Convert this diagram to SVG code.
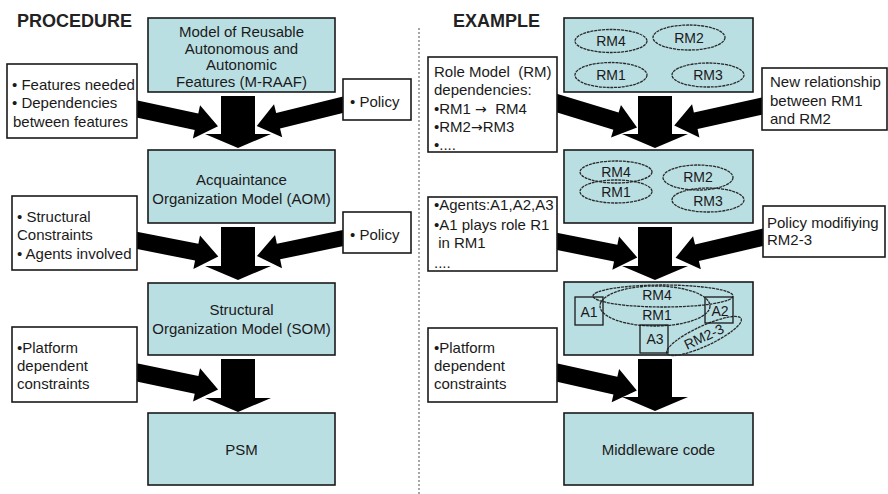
<svg xmlns="http://www.w3.org/2000/svg" width="888" height="494" viewBox="0 0 888 494">
<style>
.t{font-family:"Liberation Sans",Arial,sans-serif;font-size:15px;fill:#1a1a1a;white-space:pre}
.c{text-anchor:middle}
.s{font-size:14px}
.r{font-family:"DejaVu Sans",sans-serif;font-size:14px}
.h{font-family:"Liberation Sans",Arial,sans-serif;font-size:18px;font-weight:bold;fill:#222}
.m{fill:#badfe3;stroke:#1a1a1a;stroke-width:1.6}
.n{fill:#fff;stroke:#1a1a1a;stroke-width:1.6}
.e{fill:none;stroke:#2a2a2a;stroke-width:1.3;stroke-dasharray:3 0.8}
.a{fill:none;stroke:#1a1a1a;stroke-width:1.3}
.k{fill:#000}
</style>
<rect width="888" height="494" fill="#fff"/>
<text class="h" x="17" y="27">PROCEDURE</text>
<text class="h" x="453" y="27">EXAMPLE</text>
<line x1="419" y1="28" x2="419" y2="494" stroke="#777" stroke-width="1.3" stroke-dasharray="2 2"/>

<g id="connectors">
  <path class="k" d="M221,96 H255 V134 H271 L238,148 L205,134 H221 Z"/>
  <path class="k" d="M221,227 H255 V266 H271 L238,280 L205,266 H221 Z"/>
  <path class="k" d="M221,359 H255 V398 H271 L238,412 L205,398 H221 Z"/>
  <path class="k" d="M638,96 H672 V134 H688 L655,148 L622,134 H638 Z"/>
  <path class="k" d="M638,227 H672 V266 H688 L655,280 L622,266 H638 Z"/>
  <path class="k" d="M638,359 H672 V397 H688 L655,411 L622,397 H638 Z"/>
  <path class="k" transform="translate(130,107.5) rotate(12.1)" d="M0,-8.5 H68 V-17 L90,0 L68,17 V8.5 H0 Z"/>
  <path class="k" transform="translate(348,103.5) rotate(166.1)" d="M0,-8 H72 V-17 L94,0 L72,17 V8 H0 Z"/>
  <path class="k" transform="translate(130,239) rotate(11.2)" d="M0,-8.5 H68 V-17 L90,0 L68,17 V8.5 H0 Z"/>
  <path class="k" transform="translate(348,237) rotate(168.2)" d="M0,-8 H71 V-17 L93,0 L71,17 V8 H0 Z"/>
  <path class="k" transform="translate(130,371) rotate(11.8)" d="M0,-9 H68 V-17 L90,0 L68,17 V9 H0 Z"/>
  <path class="k" transform="translate(550,101) rotate(17)" d="M0,-9 H69 V-17 L91,0 L69,17 V9 H0 Z"/>
  <path class="k" transform="translate(767,105) rotate(167.5)" d="M0,-8.5 H73 V-17 L95,0 L73,17 V8.5 H0 Z"/>
  <path class="k" transform="translate(550,240) rotate(11.3)" d="M0,-8.5 H67 V-17 L89,0 L67,17 V8.5 H0 Z"/>
  <path class="k" transform="translate(768,236) rotate(166.7)" d="M0,-8.5 H73 V-17 L95,0 L73,17 V8.5 H0 Z"/>
  <path class="k" transform="translate(550,371) rotate(12.6)" d="M0,-9 H67 V-17 L89,0 L67,17 V9 H0 Z"/>
</g>

<g id="mraaf">
  <rect class="m" x="148" y="18" width="187" height="74"/>
  <text class="t c" x="241.5" y="37">Model of Reusable</text>
  <text class="t c" x="241.5" y="53.5">Autonomous and</text>
  <text class="t c" x="241.5" y="70">Autonomic</text>
  <text class="t c" x="241.5" y="86.5">Features (M-RAAF)</text>
</g>
<g id="features">
  <rect class="n" x="7" y="64" width="130" height="74"/>
  <text class="t" x="12" y="90">• Features needed</text>
  <text class="t" x="12" y="108">• Dependencies</text>
  <text class="t" x="13" y="126.5">between features</text>
</g>
<g id="policy1">
  <rect class="n" x="343" y="79" width="68" height="41"/>
  <text class="t" x="350" y="106.5">• Policy</text>
</g>
<g id="aom">
  <rect class="m" x="148" y="150" width="187" height="73"/>
  <text class="t c" x="241.5" y="184.5">Acquaintance</text>
  <text class="t c" x="241.5" y="203.5">Organization Model (AOM)</text>
</g>
<g id="structural">
  <rect class="n" x="12" y="196" width="125" height="74"/>
  <text class="t" x="17" y="222">• Structural</text>
  <text class="t" x="17" y="239.5">Constraints</text>
  <text class="t" x="17" y="258.5">• Agents involved</text>
</g>
<g id="policy2">
  <rect class="n" x="343" y="212" width="68" height="41"/>
  <text class="t" x="350" y="240">• Policy</text>
</g>
<g id="som">
  <rect class="m" x="148" y="283" width="187" height="72"/>
  <text class="t c" x="241.5" y="315">Structural</text>
  <text class="t c" x="241.5" y="333.5">Organization Model (SOM)</text>
</g>
<g id="platform1">
  <rect class="n" x="12" y="327" width="125" height="75"/>
  <text class="t" x="17" y="353">•Platform</text>
  <text class="t" x="17" y="371">dependent</text>
  <text class="t" x="17" y="389">constraints</text>
</g>
<g id="psm">
  <rect class="m" x="148" y="413" width="187" height="72"/>
  <text class="t c" x="241.5" y="455">PSM</text>
</g>

<g id="rm-initial">
  <rect class="m" x="564" y="18" width="189" height="74"/>
  <ellipse class="e" cx="611" cy="41" rx="36" ry="11.5"/>
  <ellipse class="e" cx="689" cy="37.5" rx="36" ry="12.5"/>
  <ellipse class="e" cx="611" cy="75" rx="36" ry="12.5"/>
  <ellipse class="e" cx="708" cy="75" rx="36" ry="12"/>
  <text class="t s c" x="611" y="46">RM4</text>
  <text class="t s c" x="689" y="42.5">RM2</text>
  <text class="t s c" x="611" y="80">RM1</text>
  <text class="t s c" x="708" y="80">RM3</text>
</g>
<g id="rm-deps">
  <rect class="n" x="428" y="57" width="129" height="95"/>
  <text class="t" x="434" y="77">Role Model  (RM)</text>
  <text class="t" x="434" y="95">dependencies:</text>
  <text class="t" x="434" y="114">•RM1 <tspan class="r">→</tspan>  RM4</text>
  <text class="t" x="434" y="132">•RM2<tspan class="r">→</tspan>RM3</text>
  <text class="t" x="434" y="150">•....</text>
</g>
<g id="new-rel">
  <rect class="n" x="762" y="68" width="125" height="62"/>
  <text class="t" x="770" y="87">New relationship</text>
  <text class="t" x="770" y="106">between RM1</text>
  <text class="t" x="770" y="124">and RM2</text>
</g>
<g id="rm-merged">
  <rect class="m" x="564" y="150" width="189" height="73"/>
  <ellipse class="e" cx="616" cy="172" rx="36" ry="11"/>
  <ellipse class="e" cx="616" cy="191.5" rx="36" ry="11.5"/>
  <ellipse class="e" cx="698" cy="177.5" rx="35" ry="12.5"/>
  <ellipse class="e" cx="708" cy="200" rx="36" ry="12"/>
  <text class="t s c" x="616" y="177">RM4</text>
  <text class="t s c" x="616" y="197">RM1</text>
  <text class="t s c" x="698" y="182">RM2</text>
  <text class="t s c" x="708" y="206">RM3</text>
</g>
<g id="agents">
  <rect class="n" x="428" y="197" width="129" height="74"/>
  <text class="t" x="434" y="210">•Agents:A1,A2,A3</text>
  <text class="t" x="434" y="230">•A1 plays role R1</text>
  <text class="t" x="434" y="248"> in RM1</text>
  <text class="t" x="434" y="268">....</text>
</g>
<g id="policy-mod">
  <rect class="n" x="763" y="206" width="122" height="51"/>
  <text class="t" x="767" y="228">Policy modifiying</text>
  <text class="t" x="767" y="245">RM2-3</text>
</g>
<g id="rm-agents">
  <rect class="m" x="564" y="282" width="189" height="73"/>
  <ellipse class="e" cx="663" cy="296" rx="70" ry="11"/>
  <ellipse class="e" cx="655" cy="306" rx="55" ry="20"/>
  <ellipse class="e" cx="704" cy="336" rx="41" ry="10" transform="rotate(-25 704 336)"/>
  <rect class="a" x="575" y="297" width="28" height="28"/>
  <rect class="a" x="705" y="297" width="28" height="26"/>
  <rect class="a" x="640" y="325" width="28" height="28"/>
  <text class="t s c" x="657" y="300">RM4</text>
  <text class="t s c" x="657" y="320">RM1</text>
  <text class="t s c" x="589" y="317">A1</text>
  <text class="t s c" x="720" y="316">A2</text>
  <text class="t s c" x="655" y="344">A3</text>
  <text class="t s c" x="706" y="341" transform="rotate(-25 706 341)">RM2-3</text>
</g>
<g id="platform2">
  <rect class="n" x="428" y="328" width="129" height="74"/>
  <text class="t" x="434" y="353">•Platform</text>
  <text class="t" x="434" y="371">dependent</text>
  <text class="t" x="434" y="389">constraints</text>
</g>
<g id="middleware">
  <rect class="m" x="564" y="413" width="189" height="72"/>
  <text class="t c" x="658.5" y="455">Middleware code</text>
</g>
</svg>
